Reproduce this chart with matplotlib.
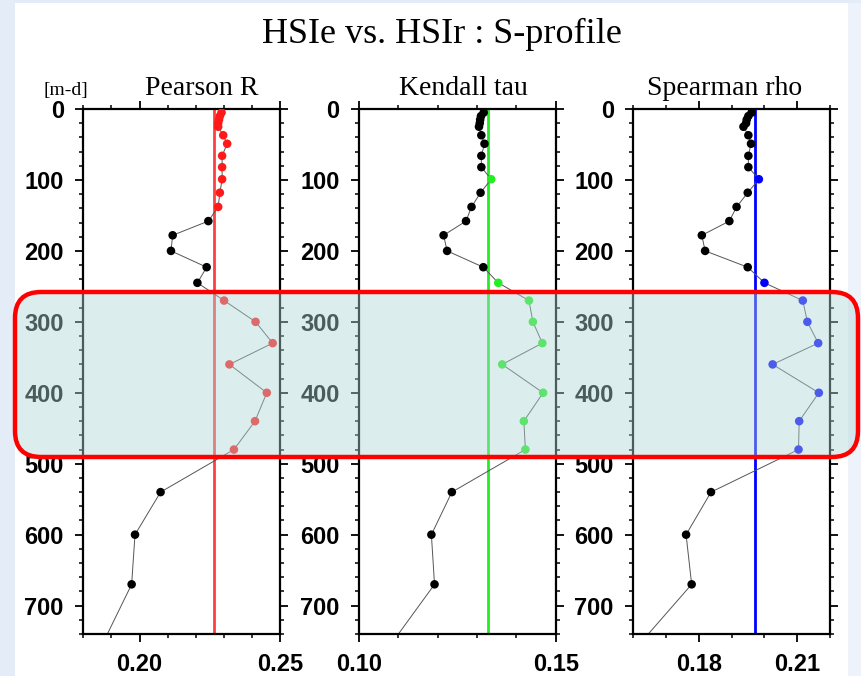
import numpy as np
import matplotlib
matplotlib.use('Agg')
import matplotlib.pyplot as plt
from matplotlib.patches import Rectangle, FancyBboxPatch
from matplotlib.ticker import MultipleLocator
from matplotlib.transforms import IdentityTransform

# depth levels [m] and correlation per level
depth = [5, 10, 15, 20, 25, 37, 49, 66, 82, 99, 118, 138, 158, 178, 200, 223,
         245, 270, 300, 330, 360, 400, 440, 480, 540, 600, 670, 760]
pearson = [0.2292, 0.2286, 0.2283, 0.2280, 0.2280, 0.2298, 0.2312, 0.2294, 0.2294,
           0.2294, 0.2286, 0.2280, 0.2245, 0.2118, 0.2112, 0.2239, 0.2206, 0.2301,
           0.2413, 0.2474, 0.2320, 0.2453, 0.2411, 0.2336, 0.2075, 0.1984, 0.1972, 0.1861]
kendall = [0.1317, 0.1310, 0.1308, 0.1307, 0.1305, 0.1311, 0.1319, 0.1311, 0.1311,
           0.1336, 0.1309, 0.1286, 0.1272, 0.1215, 0.1224, 0.1316, 0.1354, 0.1432,
           0.1442, 0.1466, 0.1364, 0.1468, 0.1419, 0.1423, 0.1236, 0.1184, 0.1192, 0.1074]
spearman = [0.1961, 0.1951, 0.1946, 0.1944, 0.1936, 0.1951, 0.1959, 0.1951, 0.1951,
            0.1983, 0.1949, 0.1915, 0.1893, 0.1809, 0.1819, 0.1949, 0.2000, 0.2117,
            0.2131, 0.2164, 0.2025, 0.2166, 0.2106, 0.2104, 0.1837, 0.1761, 0.1778, 0.1608]

names = ['Pearson R', 'Kendall tau', 'Spearman rho']
thresh = [0.2266, 0.1329, 0.1971]
xlims = [(0.18, 0.25), (0.10, 0.15), (0.16, 0.22)]
xlabs = [['0.20', '0.25'], ['0.10', '0.15'], ['0.18', '0.21']]
cols = ['#ff1a1a', '#22ee22', '#0000ff']
linecols = ['#ff4040', '#22ee22', '#0000ff']
title_x = [202, 463, 725]

W, H = 862, 676
fig = plt.figure(figsize=(W / 100, H / 100), dpi=100)
fig.patch.set_facecolor('#e4ecf8')
fig.patches.append(Rectangle((15 / W, 0), (848 - 15) / W, (H - 3) / H, transform=fig.transFigure,
                             facecolor='white', edgecolor='none', zorder=-2))
fig.patches.append(Rectangle((848 / W, 0), 14 / W, (H - 3) / H, transform=fig.transFigure,
                             facecolor='#eef3fb', edgecolor='none', zorder=-2))

lefts = [83.3, 359.0, 633.3]
for i, vals in enumerate([pearson, kendall, spearman]):
    ax = fig.add_axes([lefts[i] / W, 42 / H, 196.7 / W, 525 / H])
    ax.plot(vals, depth, color='#555555', lw=0.7, zorder=2)
    ax.axvline(thresh[i], color=linecols[i], lw=2, zorder=1)
    c = [cols[i] if v > thresh[i] else 'black' for v in vals]
    ax.scatter(vals, depth, s=38, c=c, zorder=3, edgecolors='none')
    ax.set_xlim(xlims[i])
    ax.set_ylim(740, 0)
    ax.set_xticks([float(t) for t in xlabs[i]])
    ax.set_xticklabels(xlabs[i])
    ax.xaxis.set_minor_locator(MultipleLocator(0.01))
    ax.set_yticks(range(0, 800, 100))
    ax.yaxis.set_minor_locator(MultipleLocator(20))
    ax.tick_params(which='both', direction='out', top=True, right=True, bottom=True, left=True,
                   labeltop=False, labelright=False, color='black')
    ax.tick_params(which='major', length=6, width=1.3, pad=8)
    ax.tick_params(which='minor', length=3, width=1.1)
    for lab in ax.get_xticklabels() + ax.get_yticklabels():
        lab.set_fontfamily('Liberation Sans')
        lab.set_fontweight('bold')
        lab.set_fontsize(17)
    for s in ax.spines.values():
        s.set_linewidth(1.6)
    fig.text(title_x[i] / W, 1 - 95 / H, names[i], ha='center', va='baseline',
             family='Liberation Serif', fontsize=20)

fig.text(66 / W, 1 - 95 / H, '[m-d]', ha='center', va='baseline', family='Liberation Serif', fontsize=14)
fig.text(442 / W, 1 - 43 / H, 'HSIe vs. HSIr : S-profile', ha='center', va='baseline',
         family='Liberation Serif', fontsize=26)

# highlighted depth band (pixel coords)
fig.patches.append(FancyBboxPatch((15, H - 457), 843, 165, boxstyle='round,pad=0,rounding_size=26',
                                  transform=IdentityTransform(), facecolor=(0.686, 0.839, 0.839, 0.43),
                                  edgecolor='#ff0000', linewidth=3.2, zorder=5))

fig.savefig('out.png', dpi=100, facecolor=fig.get_facecolor())
